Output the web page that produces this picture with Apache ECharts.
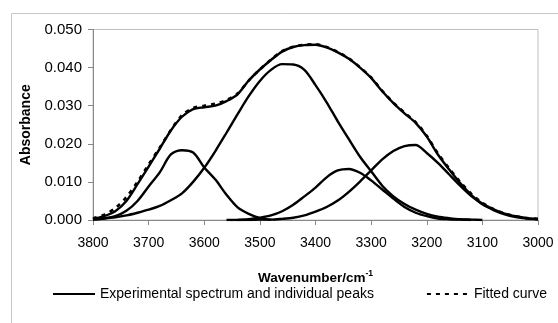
<!DOCTYPE html>
<html>
<head>
<meta charset="utf-8">
<script src="https://cdn.jsdelivr.net/npm/echarts@6/dist/echarts.min.js"></script>
<style>
  html, body { margin: 0; padding: 0; background: #fff; }
  #chart { width: 558px; height: 323px; }
</style>
</head>
<body>
<div id="chart"></div>
<script>
// Wavenumber grid (cm^-1), 3800 down to 3000 in steps of 20
const wavenumbers = [3800, 3780, 3760, 3740, 3720, 3700, 3680, 3660, 3640, 3620, 3600,
  3580, 3560, 3540, 3520, 3500, 3480, 3460, 3440, 3420, 3400,
  3380, 3360, 3340, 3320, 3300, 3280, 3260, 3240, 3220, 3200,
  3180, 3160, 3140, 3120, 3100, 3080, 3060, 3040, 3020, 3000];

// Measured absorbance
const experimental = [0.0002, 0.0010, 0.0023, 0.0050, 0.0094, 0.0140, 0.0187, 0.0235, 0.0271, 0.0291, 0.0296,
  0.0300, 0.0312, 0.0330, 0.0366, 0.0395, 0.0420, 0.0442, 0.0454, 0.0459, 0.0460,
  0.0453, 0.0440, 0.0423, 0.0400, 0.0373, 0.0338, 0.0307, 0.0280, 0.0255, 0.0219,
  0.0172, 0.0133, 0.0097, 0.0066, 0.0041, 0.0026, 0.0015, 0.0008, 0.0004, 0.0002];

// Sum of the fitted component bands
const fitted = [0.0004, 0.0014, 0.0031, 0.0060, 0.0100, 0.0146, 0.0190, 0.0236, 0.0275, 0.0294, 0.0300,
  0.0305, 0.0315, 0.0332, 0.0366, 0.0395, 0.0421, 0.0443, 0.0455, 0.0460, 0.0461,
  0.0454, 0.0441, 0.0424, 0.0401, 0.0374, 0.0339, 0.0308, 0.0282, 0.0257, 0.0221,
  0.0175, 0.0136, 0.0100, 0.0069, 0.0045, 0.0029, 0.0017, 0.0010, 0.0005, 0.0003];

// Component bands (null where a band is not drawn)
const peak3640 = [0.0001, 0.0004, 0.0010, 0.0024, 0.0050, 0.0088, 0.0125, 0.0172, 0.0183, 0.0177, 0.0138,
  0.0106, 0.0066, 0.0033, 0.0016, 0.0005, 0.0001, null, null, null, null,
  null, null, null, null, null, null, null, null, null, null,
  null, null, null, null, null, null, null, null, null, null];

const peak3450 = [0.0002, 0.0004, 0.0007, 0.0012, 0.0019, 0.0027, 0.0037, 0.0052, 0.0070, 0.0100, 0.0137,
  0.0181, 0.0229, 0.0278, 0.0325, 0.0365, 0.0394, 0.0409, 0.0408, 0.0394, 0.0354,
  0.0309, 0.0259, 0.0212, 0.0166, 0.0128, 0.0090, 0.0062, 0.0042, 0.0027, 0.0016,
  0.0009, 0.0005, 0.0002, 0.0001, 0.0000, null, null, null, null, null];

const peak3340 = [null, null, null, null, null, null, null, null, null, null, null,
  null, null, 0.0000, 0.0002, 0.0006, 0.0012, 0.0023, 0.0040, 0.0062, 0.0085,
  0.0112, 0.0130, 0.0134, 0.0124, 0.0104, 0.0080, 0.0056, 0.0034, 0.0019, 0.0010,
  0.0004, 0.0002, 0.0001, 0.0000, null, null, null, null, null, null];

const peak3225 = [null, null, null, null, null, null, null, null, null, null, null,
  null, 0.0000, 0.0000, 0.0000, 0.0001, 0.0001, 0.0003, 0.0006, 0.0012, 0.0022,
  0.0034, 0.0051, 0.0074, 0.0101, 0.0130, 0.0159, 0.0181, 0.0194, 0.0197, 0.0176,
  0.0150, 0.0120, 0.0090, 0.0063, 0.0043, 0.0028, 0.0017, 0.0010, 0.0005, 0.0002];

// Axis ticks
const xTicks = { min: 3000, max: 3800, step: 100 };
const yTicks = { min: 0, max: 0.05, step: 0.01 };

const SOLID_NAME = 'Experimental spectrum and individual peaks';
const FIT_NAME = 'Fitted curve';
const FONT = 'Liberation Sans, Arial, sans-serif';

function toPairs(values) {
  const out = [];
  values.forEach((v, i) => { if (v !== null) out.push([wavenumbers[i], v]); });
  return out;
}

function solidSeries(values) {
  return {
    name: SOLID_NAME,
    type: 'line',
    data: toPairs(values),
    smooth: 0.3,
    showSymbol: false,
    symbol: 'none',
    lineStyle: { color: '#000', width: 2.4, type: 'solid' },
    itemStyle: { color: '#000' },
    z: 3
  };
}

const chart = echarts.init(document.getElementById('chart'), null, { renderer: 'canvas' });

chart.setOption({
  animation: false,
  backgroundColor: '#fff',
  textStyle: { fontFamily: FONT },
  grid: { left: 93, right: 20, top: 29.5, bottom: 103, show: true, borderColor: '#c0c0c0', borderWidth: 1, containLabel: false },
  graphic: [
    {
      type: 'rect', left: 9, top: 11, z: -10, silent: true,
      shape: { width: 620, height: 400 },
      style: { fill: 'none', stroke: '#c8c8c8', lineWidth: 1 }
    }
  ],
  legend: {
    left: 47, top: 282,
    itemWidth: 42, itemHeight: 14, itemGap: 52,
    itemStyle: { opacity: 0 },
    textStyle: { fontFamily: FONT, fontSize: 14, color: '#000' },
    data: [{ name: SOLID_NAME }, { name: FIT_NAME }],
    selectedMode: false
  },
  xAxis: {
    type: 'value', inverse: true,
    min: xTicks.min, max: xTicks.max, interval: xTicks.step,
    name: '{b|Wavenumber/cm}{s|-1}', nameLocation: 'middle', nameGap: 49,
    nameTextStyle: {
      rich: {
        b: { fontFamily: FONT, fontSize: 13.5, fontWeight: 'bold', color: '#000', verticalAlign: 'bottom', lineHeight: 16 },
        s: { fontFamily: FONT, fontSize: 8.5, fontWeight: 'bold', color: '#000', verticalAlign: 'top', lineHeight: 16 }
      }
    },
    axisLine: { show: true, lineStyle: { color: '#888', width: 1 } },
    axisTick: { show: true, inside: false, length: 5, lineStyle: { color: '#888' } },
    axisLabel: { fontFamily: FONT, fontSize: 14, color: '#000', margin: 16, formatter: v => String(v) },
    splitLine: { show: false }
  },
  yAxis: {
    type: 'value',
    min: yTicks.min, max: yTicks.max, interval: yTicks.step,
    name: 'Absorbance', nameLocation: 'middle', nameGap: 58,
    nameTextStyle: { fontFamily: FONT, fontSize: 14, fontWeight: 'bold', color: '#000' },
    axisLine: { show: true, lineStyle: { color: '#888', width: 1 } },
    axisTick: { show: true, inside: false, length: 5, lineStyle: { color: '#888' } },
    axisLabel: { fontFamily: FONT, fontSize: 15, color: '#000', margin: 11, formatter: v => v.toFixed(3) },
    splitLine: { show: false }
  },
  series: [
    solidSeries(peak3640),
    solidSeries(peak3450),
    solidSeries(peak3340),
    solidSeries(peak3225),
    solidSeries(experimental),
    {
      name: FIT_NAME,
      type: 'line',
      data: toPairs(fitted),
      smooth: 0.3,
      showSymbol: false,
      symbol: 'none',
      lineStyle: { color: '#000', width: 2.6, type: [4, 5] },
      itemStyle: { color: '#000' },
      z: 4
    }
  ]
});
</script>
</body>
</html>
